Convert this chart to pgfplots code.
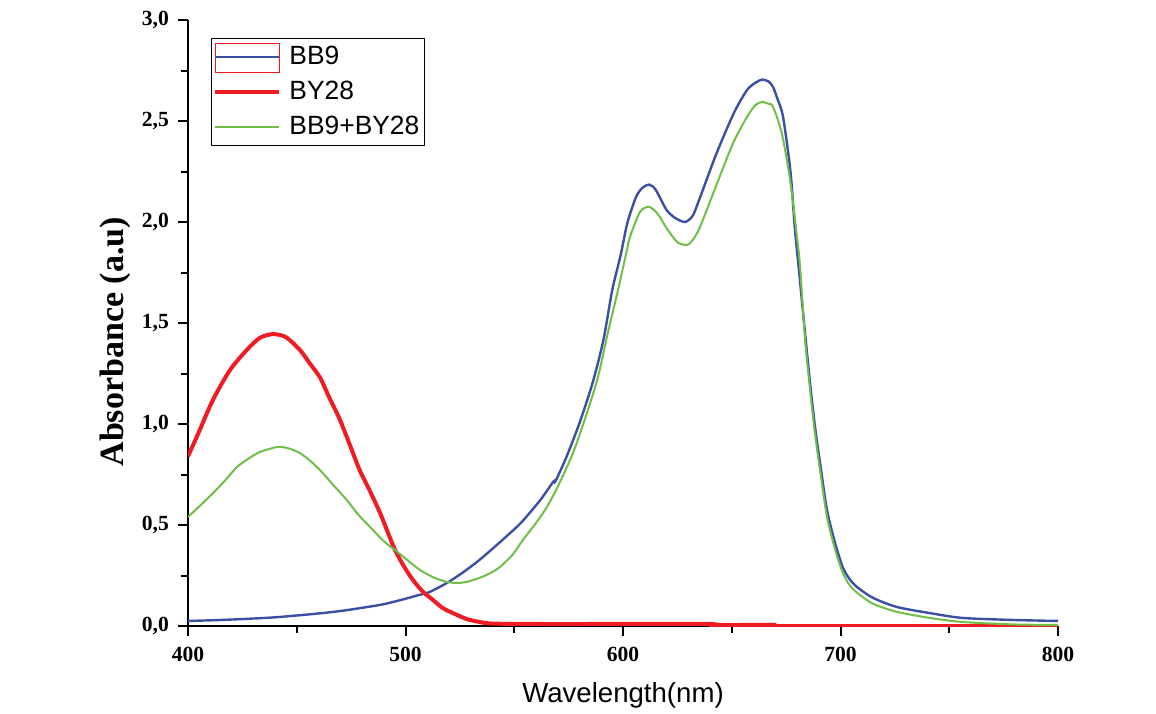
\documentclass[border=0pt]{standalone}
\usepackage{pgfplots}
\pgfplotsset{compat=1.18}
\usepackage{fontspec}
\setmainfont{Liberation Serif}
\newfontfamily\arialf{Liberation Sans}
\definecolor{bbblue}{RGB}{58,80,162}
\definecolor{byred}{RGB}{240,28,36}
\definecolor{mixgreen}{RGB}{110,190,72}
\begin{document}
\begin{tikzpicture}
\useasboundingbox (-94pt,-43.5pt) rectangle (484pt,313pt);
\begin{axis}[
  at={(0,0)}, anchor=south west,
  scale only axis, width=435pt, height=303pt,
  xmin=400, xmax=800, ymin=0, ymax=3,
  axis x line*=bottom, axis y line*=left,
  axis line style={-, line width=1pt, black},
  tick align=outside,
  xtick={400,500,600,700,800},
  ytick={0,0.5,1,1.5,2,2.5,3},
  minor x tick num=1, minor y tick num=1,
  major tick length=5pt, minor tick length=3.5pt,
  every tick/.style={black, line width=1pt},
  /pgf/number format/assume math mode=true,
  yticklabel style={/pgf/number format/use comma, /pgf/number format/fixed, /pgf/number format/fixed zerofill, /pgf/number format/precision=1, xshift=-1pt},
  xticklabel style={/pgf/number format/1000 sep={}, yshift=-2pt},
  ticklabel style={font=\bfseries\fontsize{10.8}{12}\selectfont},
  xlabel={Wavelength(nm)},
  ylabel={Absorbance (a.u)},
  xlabel style={font=\arialf\fontsize{13.8}{16}\selectfont, at={(axis description cs:0.5,-0.114)}, anchor=center},
  ylabel style={font=\bfseries\fontsize{17}{20}\selectfont, at={(axis description cs:-0.083,0.469)}, anchor=center},
  legend style={at={(axis description cs:0.0264,0.970)}, anchor=north west,
    draw=black, line width=0.5pt, font=\arialf\fontsize{13.2}{15}\selectfont,
    inner xsep=1pt, inner ysep=0.5pt, row sep=0pt,
    nodes={inner sep=1.5pt, text height=11pt, text depth=3.5pt}},
  legend cell align=left,
  legend image code/.code={\draw[#1] (0pt,0pt) -- (32pt,0pt); \path (34.5pt,0pt);},
  every axis plot/.append style={smooth, tension=0.45},
]
\addplot[bbblue, line width=1.2pt,
  legend image code/.code={\draw[byred, line width=0.5pt] (0pt,-7.5pt) rectangle (32pt,7pt); \draw[bbblue, line width=1.2pt] (0pt,0pt) -- (32pt,0pt); \path (34.5pt,0pt);}]
coordinates {
(400,0.025) (410,0.028) (420,0.032) (430,0.037) (440,0.043) (450,0.052)
(460,0.062) (470,0.074) (480,0.090) (490,0.108) (500,0.135) (505,0.150)
(511,0.168) (519,0.213) (526,0.262) (534,0.327) (543,0.411) (553,0.510)
(562,0.624) (568,0.715) (569,0.718) (574,0.837) (580,1.005) (586,1.203)
(591,1.416) (595,1.66) (599,1.84) (602,1.995) (606,2.124) (609,2.17)
(612,2.185) (615,2.16) (620,2.06) (624,2.02) (628.5,2.0) (632,2.03)
(635,2.109) (643,2.34) (651,2.54) (657,2.653) (661,2.69) (664,2.705)
(667,2.695) (669,2.668) (671,2.61) (673.6,2.52) (677,2.25) (679,1.97)
(681,1.75) (683.7,1.45) (686,1.203) (688.3,0.985) (690.6,0.807)
(693.8,0.574) (697.5,0.411) (701,0.292) (704,0.235) (707.6,0.193)
(715,0.139) (726,0.094) (741,0.064) (756,0.040) (779,0.030) (800,0.025)
};
\addlegendentry{BB9}
\addplot[byred, line width=2pt] coordinates {
(400,0.84) (405,0.96) (411.5,1.12) (419.3,1.267) (427,1.366) (433,1.426)
(439,1.445) (445,1.43) (451.5,1.366) (456,1.30) (460.7,1.23) (465,1.13)
(469.9,1.02) (475,0.88) (479,0.77) (484,0.66) (488.3,0.56) (492,0.46)
(495.2,0.376) (499,0.30) (503.4,0.228) (508,0.17) (512.6,0.129) (517,0.09)
(521.8,0.064) (528,0.035) (534,0.02) (540,0.012) (560,0.01) (600,0.01)
(640,0.01) (641,0.005) (670,0.005) (671,0.0) (800,0.0)
};
\addlegendentry{BY28}
\addplot[mixgreen, line width=1pt] coordinates {
(400,0.54) (405,0.59) (411.5,0.658) (417,0.72) (422.5,0.787) (428,0.83)
(433,0.861) (441,0.886) (446,0.88) (451.5,0.856) (457,0.81) (462,0.757)
(467,0.695) (473,0.624) (478,0.555) (483.7,0.49) (490,0.42) (495.2,0.376)
(501,0.325) (506.7,0.277) (512,0.245) (516,0.228) (520,0.216) (524,0.213)
(528,0.218) (534,0.238) (539,0.262) (543.4,0.292) (549,0.35) (554,0.426)
(560,0.51) (565,0.589) (570,0.69) (577,0.856) (583.4,1.054) (588.5,1.233)
(593,1.45) (597.7,1.663) (601.8,1.861) (603.2,1.926) (607.8,2.05) (612,2.075)
(616,2.04) (620,1.97) (625,1.90) (629.4,1.886) (632,1.91) (635.4,1.975)
(643.2,2.19) (650.6,2.39) (657,2.52) (661,2.58) (664,2.594) (667,2.585)
(669,2.57) (673,2.44) (676.8,2.21) (680,1.926) (681.4,1.78) (683.7,1.42)
(686,1.17) (688.3,0.95) (690.6,0.77) (693.8,0.54) (697.5,0.38) (701,0.265)
(704,0.205) (707.6,0.165) (715,0.11) (726,0.07) (741,0.04) (756,0.02)
(779,0.008) (800,0.005)
};
\addlegendentry{BB9+BY28}
\end{axis}
\end{tikzpicture}
\end{document}
